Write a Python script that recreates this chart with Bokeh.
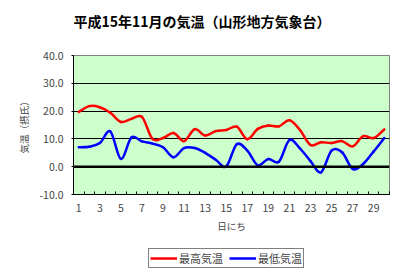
import numpy as np
from bokeh.plotting import figure
from bokeh.layouts import column
from bokeh.models import (Range1d, FixedTicker, Span, Legend, LegendItem, Label,
                          ColumnDataSource, NumeralTickFormatter)
from bokeh.embed import file_html
from bokeh.resources import INLINE

days = list(range(1, 31))
tmax = [19.7, 21.8, 21.4, 19.4, 16.1, 17.2, 17.9, 10.0, 10.3, 12.1,
        9.2, 13.5, 11.2, 12.8, 13.2, 14.4, 9.9, 13.6, 14.8, 14.5,
        16.7, 13.2, 7.8, 8.8, 8.5, 9.2, 7.3, 11.0, 10.3, 13.4]
tmin = [7.0, 7.2, 8.5, 12.7, 2.8, 10.5, 9.1, 8.3, 7.0, 3.4,
        6.7, 6.7, 5.0, 2.5, 0.1, 8.1, 5.8, 0.5, 2.8, 1.8,
        9.6, 6.6, 2.0, -2.0, 5.8, 5.2, -0.8, 1.0, 5.5, 10.3]
y_ticks = [-10, 0, 10, 20, 30, 40]
x_tick_days = list(range(1, 31, 2))

title = "平成15年11月の気温（山形地方気象台）"
y_label = "気温（摂氏）"
x_label = "日にち"
names = ["最高気温", "最低気温"]
colors = ["#FF0000", "#0000FF"]
JP = "Noto Sans CJK JP"

W = 402
BL, BR = 73, 13
FW = W - BL - BR


def smooth_segments(xs, ys):
    x = np.asarray(xs, float)
    y = np.asarray(ys, float)
    n = len(x)
    xp = np.concatenate([[x[0]], x, [x[-1]]])
    yp = np.concatenate([[y[0]], y, [y[-1]]])
    i = np.arange(n - 1)
    x0, y0 = x[:-1], y[:-1]
    x1, y1 = x[1:], y[1:]
    cx0 = x0 + (xp[i + 2] - xp[i]) / 6.0
    cy0 = y0 + (yp[i + 2] - yp[i]) / 6.0
    cx1 = x1 - (xp[i + 3] - xp[i + 1]) / 6.0
    cy1 = y1 - (yp[i + 3] - yp[i + 1]) / 6.0
    return ColumnDataSource(dict(x0=x0, y0=y0, x1=x1, y1=y1,
                                 cx0=cx0, cy0=cy0, cx1=cx1, cy1=cy1))


# ---- title strip ----
H0 = 36
p0 = figure(width=W, height=H0, output_backend="svg", toolbar_location=None,
            x_range=Range1d(0, FW), y_range=Range1d(0, H0),
            min_border_left=BL, min_border_right=BR, min_border_top=0,
            min_border_bottom=0, x_axis_type=None, y_axis_type=None)
p0.outline_line_color = None
p0.grid.visible = False
p0.add_layout(Label(x=0, y=H0 - 10, text=title, text_align="left",
                    text_baseline="top", text_font=JP, text_font_size="14px",
                    text_font_style="bold", text_color="black"))

# ---- main chart ----
p = figure(width=W, height=240 - H0, output_backend="svg", toolbar_location=None,
           x_range=Range1d(0.5, 30.5), y_range=Range1d(-10, 40),
           min_border_left=BL, min_border_right=BR, min_border_top=55 - H0,
           min_border_bottom=46)
p.background_fill_color = "#CCFFCC"
p.border_fill_color = "white"
p.outline_line_color = "#808080"
p.outline_line_width = 1

# y axis
p.yaxis.ticker = FixedTicker(ticks=y_ticks)
p.yaxis.formatter = NumeralTickFormatter(format="0.0")
p.yaxis.axis_line_color = "black"
p.yaxis.major_tick_out = 2
p.yaxis.major_tick_in = 0
p.yaxis.minor_tick_line_color = None
p.yaxis.major_label_standoff = 8
p.yaxis.major_label_text_font = JP
p.yaxis.major_label_text_font_size = "10.5px"
p.yaxis.axis_label = y_label
p.yaxis.axis_label_text_font = JP
p.yaxis.axis_label_text_font_size = "9.5px"
p.yaxis.axis_label_text_font_style = "normal"
p.yaxis.axis_label_standoff = 5

# x axis
p.xaxis.ticker = FixedTicker(ticks=x_tick_days,
                             minor_ticks=[d - 0.5 for d in days] + [30.5])
p.xaxis.axis_line_color = "black"
p.xaxis.major_tick_in = 0
p.xaxis.major_tick_out = 0
p.xaxis.minor_tick_in = 3
p.xaxis.minor_tick_out = 0
p.xaxis.minor_tick_line_color = "black"
p.xaxis.major_label_standoff = 9
p.xaxis.major_label_text_font = JP
p.xaxis.major_label_text_font_size = "10.5px"
p.xaxis.axis_label = x_label
p.xaxis.axis_label_text_font = JP
p.xaxis.axis_label_text_font_size = "9.5px"
p.xaxis.axis_label_text_font_style = "normal"
p.xaxis.axis_label_standoff = 4

p.xgrid.grid_line_color = None
p.ygrid.ticker = FixedTicker(ticks=[10, 20, 30])
p.ygrid.grid_line_color = "black"
p.ygrid.grid_line_width = 1

p.add_layout(Span(location=0, dimension="width", line_color="black", line_width=2.5))

for series, c in zip([tmax, tmin], colors):
    src = smooth_segments(days, series)
    p.bezier(x0="x0", y0="y0", x1="x1", y1="y1", cx0="cx0", cy0="cy0",
             cx1="cx1", cy1="cy1", source=src, line_color=c, line_width=2.5,
             line_cap="round")

# ---- legend strip ----
H2 = 28
p2 = figure(width=W, height=H2, output_backend="svg", toolbar_location=None,
            x_range=Range1d(100, 101), y_range=Range1d(100, 101),
            min_border_left=BL, min_border_right=BR, min_border_top=0,
            min_border_bottom=0, x_axis_type=None, y_axis_type=None)
p2.outline_line_color = None
p2.grid.visible = False
# legend keys (same series; they fall outside this strip's ranges, so only the key shows)
proxies = [p2.line(x=days, y=s, line_color=c, line_width=2.5)
           for s, c in zip([tmax, tmin], colors)]

legend = Legend(items=[LegendItem(label=n, renderers=[r]) for n, r in zip(names, proxies)],
                location=(75, 0), orientation="horizontal")
legend.border_line_color = "black"
legend.border_line_width = 1
legend.background_fill_color = "white"
legend.background_fill_alpha = 1
legend.label_text_font = JP
legend.label_text_font_size = "11px"
legend.glyph_width = 27
legend.glyph_height = 10
legend.label_height = 10
legend.label_standoff = 2
legend.spacing = 6
legend.padding = 1
legend.margin = 0
p2.add_layout(legend, "center")

layout = column(p0, p, p2, spacing=0)
open("out.html", "w").write(file_html(layout, INLINE))
